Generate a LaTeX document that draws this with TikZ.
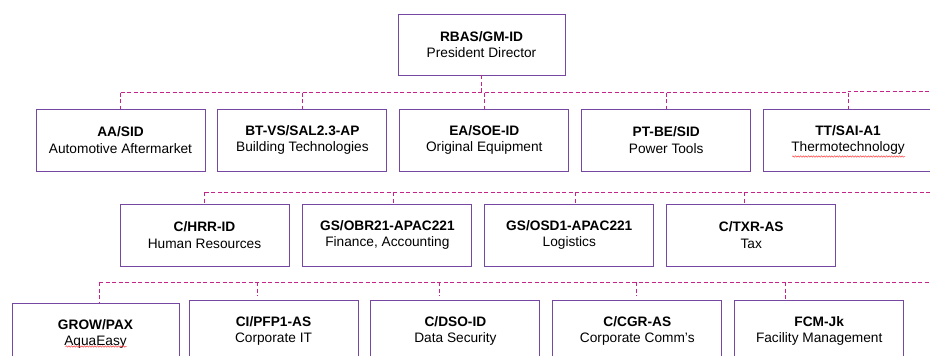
\documentclass[tikz,border=0pt]{standalone}
\usepackage{fontspec}
\setmainfont{Liberation Sans}
\usetikzlibrary{positioning,decorations.pathmorphing}
\definecolor{boxpurple}{RGB}{118,72,164}
\definecolor{linkpink}{RGB}{196,36,136}
\tikzset{
  unit/.style={draw=boxpurple, line width=0.9pt, minimum width=169, minimum height=62,
    inner sep=0pt, align=center, font=\fontsize{13.7}{16.5}\selectfont},
  link/.style={draw=linkpink, line width=0.9pt, dash pattern=on 4pt off 2.5pt},
  spellwave/.style={draw=red!75, line width=0.5pt, decorate,
    decoration={snake, amplitude=0.7pt, segment length=2.6pt}}
}
\begin{document}
\begin{tikzpicture}[x=1pt,y=-1pt]
    \clip (0,0) rectangle (930,356);

    \node[unit, minimum width=167, minimum height=61] (rbas) at (481.5,44.5) {\textbf{RBAS/GM-ID}\\President Director};

    \node[unit] (aa) at (120.5,140) {\textbf{AA/SID}\\Automotive Aftermarket};
    \node[unit, right=12pt of aa] (btvs) {\textbf{BT-VS/SAL2.3-AP}\\Building Technologies};
    \node[unit, right=12pt of btvs] (ea) {\textbf{EA/SOE-ID}\\Original Equipment};
    \node[unit, right=12pt of ea] (ptbe) {\textbf{PT-BE/SID}\\Power Tools};
    \node[unit, right=12pt of ptbe] (tt) {\textbf{TT/SAI-A1}\\Thermotechnology};

    \node[unit] (hrr) at (204.5,235) {\textbf{C/HRR-ID}\\Human Resources};
    \node[unit, right=13pt of hrr] (obr) {\textbf{GS/OBR21-APAC221}\\Finance, Accounting};
    \node[unit, right=12pt of obr] (osd) {\textbf{GS/OSD1-APAC221}\\Logistics};
    \node[unit, right=12pt of osd] (txr) {\textbf{C/TXR-AS}\\Tax};

    \node[unit, minimum width=167] (grow) at (95.5,334) {\textbf{GROW/PAX}\\AquaEasy};
    \node[unit] (ci) at (273.5,331) {\textbf{CI/PFP1-AS}\\Corporate IT};
    \node[unit, right=12pt of ci] (dso) {\textbf{C/DSO-ID}\\Data Security};
    \node[unit, right=12pt of dso] (cgr) {\textbf{C/CGR-AS}\\Corporate Comm’s};
    \node[unit, right=12pt of cgr] (fcm) {\textbf{FCM-Jk}\\Facility Management};

    \draw[spellwave] ([xshift=-56pt,yshift=-16.5pt]tt.center) -- ([xshift=57pt,yshift=-16.5pt]tt.center);
    \draw[spellwave] ([xshift=-30pt,yshift=-12.5pt]grow.center) -- ([xshift=31pt,yshift=-12.5pt]grow.center);

    \coordinate (bus1) at (930,92.5);
    \coordinate (edge1) at (930,91);
    \coordinate (bus2) at (930,192);
    \coordinate (bus3) at (930,282);

    \draw[link] (rbas.south) -- (rbas.south |- bus1);
    \draw[link] (aa.north |- bus1) -- (tt.north |- bus1) -- (tt.north |- edge1) -- (edge1);
    \foreach \n in {aa,btvs,ea,ptbe,tt}{
    \draw[link] (\n.north |- bus1) -- (\n.north);
    }

    \draw[link] (hrr.north |- bus2) -- (bus2);
    \draw[link] (hrr.north |- bus2) -- (hrr.north);
    \draw[link] ([xshift=6.5pt]obr.north |- bus2) -- ([xshift=6.5pt]obr.north);
    \draw[link] ([xshift=6pt]osd.north |- bus2) -- ([xshift=6pt]osd.north);
    \draw[link] ([xshift=-6.5pt]txr.north |- bus2) -- ([xshift=-6.5pt]txr.north);

    \draw[link] ([xshift=3.5pt]grow.north |- bus3) -- (bus3);
    \draw[link] ([xshift=3.5pt]grow.north |- bus3) -- ([xshift=3.5pt]grow.north);
    \draw[link] ([xshift=-16.5pt]ci.north |- bus3) -- ([xshift=-16.5pt,yshift=4pt]ci.north);
    \draw[link] ([xshift=-16pt]dso.north |- bus3) -- ([xshift=-16pt,yshift=4pt]dso.north);
    \draw[link] ([xshift=-1pt]cgr.north |- bus3) -- ([xshift=-1pt,yshift=4pt]cgr.north);
    \draw[link] ([xshift=-33.5pt]fcm.north |- bus3) -- ([xshift=-33.5pt]fcm.north);
\end{tikzpicture}
\end{document}
